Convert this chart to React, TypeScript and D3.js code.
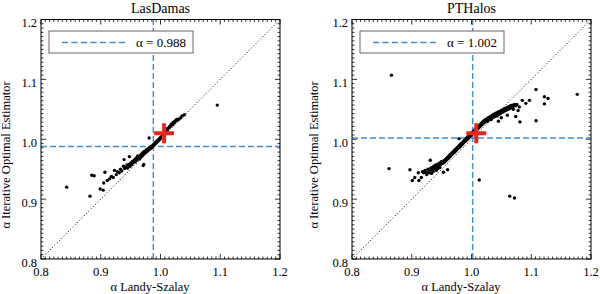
import React, { useEffect, useRef } from "react";
import * as d3 from "d3";

// LasDamas mocks: [alpha Landy-Szalay, alpha iterative optimal estimator]
const lasDamasPoints: [number, number][] = [
  [0.843, 0.920], [0.882, 0.905], [0.885, 0.940], [0.889, 0.939], [0.899, 0.917], [0.904, 0.915],
  [0.905, 0.927], [0.907, 0.945], [0.911, 0.931], [0.915, 0.934], [0.918, 0.938], [0.921, 0.936],
  [0.923, 0.948], [0.926, 0.941], [0.928, 0.946], [0.931, 0.944], [0.933, 0.950], [0.935, 0.947],
  [0.938, 0.955], [0.939, 0.966], [0.940, 0.951], [0.942, 0.953], [0.944, 0.957], [0.945, 0.952],
  [0.947, 0.958], [0.948, 0.971], [0.949, 0.955], [0.950, 0.960], [0.952, 0.958], [0.953, 0.963],
  [0.954, 0.961], [0.956, 0.965], [0.957, 0.962], [0.958, 0.967], [0.959, 0.964], [0.960, 0.969],
  [0.961, 0.966], [0.962, 0.972], [0.963, 0.968], [0.964, 0.971], [0.965, 0.967], [0.966, 0.973],
  [0.967, 0.970], [0.968, 0.975], [0.969, 0.972], [0.970, 0.977], [0.971, 0.956], [0.972, 0.958],
  [0.971, 0.974], [0.972, 0.979], [0.973, 0.976], [0.974, 0.980], [0.975, 0.978], [0.976, 0.982],
  [0.977, 0.979], [0.978, 0.983], [0.979, 0.981], [0.980, 0.985], [0.981, 0.983], [0.982, 0.986],
  [0.983, 0.984], [0.984, 0.988], [0.985, 0.986], [0.986, 0.989], [0.987, 0.988], [0.988, 0.991],
  [0.989, 0.990], [0.990, 0.993], [0.991, 0.992], [0.981, 1.002], [0.992, 0.995], [0.993, 0.994],
  [0.994, 0.997], [0.995, 0.996], [0.996, 0.999], [0.997, 0.998], [0.998, 1.001], [0.999, 1.000],
  [1.000, 1.003], [1.002, 1.004], [1.003, 1.006], [1.005, 1.007], [1.006, 1.010], [1.008, 1.011],
  [1.009, 1.014], [1.011, 1.015], [1.012, 1.018], [1.014, 1.019], [1.015, 1.021], [1.017, 1.022],
  [1.018, 1.025], [1.020, 1.024], [1.021, 1.028], [1.023, 1.027], [1.024, 1.030], [1.026, 1.031],
  [1.027, 1.033], [1.029, 1.032], [1.031, 1.034], [1.034, 1.036], [1.036, 1.039], [1.040, 1.041],
  [1.095, 1.057],
];

// PTHalos mocks
const ptHalosPoints: [number, number][] = [
  [0.862, 0.951], [0.866, 1.107], [0.897, 0.949], [0.901, 0.931], [0.905, 0.936], [0.911, 0.944],
  [0.912, 0.931], [0.916, 0.936], [0.918, 0.946], [0.920, 0.944], [0.922, 0.948], [0.924, 0.945],
  [0.925, 0.941], [0.927, 0.950], [0.928, 0.944], [0.930, 0.947], [0.931, 0.965], [0.932, 0.952],
  [0.933, 0.943], [0.934, 0.949], [0.935, 0.953], [0.936, 0.946], [0.937, 0.955], [0.938, 0.950],
  [0.939, 0.952], [0.940, 0.957], [0.941, 0.948], [0.942, 0.954], [0.943, 0.958], [0.944, 0.951],
  [0.945, 0.956], [0.946, 0.960], [0.947, 0.953], [0.948, 0.958], [0.949, 0.962], [0.950, 0.959],
  [0.951, 0.963], [0.953, 0.945], [0.952, 0.960], [0.954, 0.964], [0.955, 0.962], [0.956, 0.966],
  [0.957, 0.964], [0.958, 0.968], [0.959, 0.966], [0.960, 0.949], [0.960, 0.970], [0.961, 0.968],
  [0.962, 0.972], [0.963, 0.970], [0.964, 0.974], [0.965, 0.972], [0.966, 0.976], [0.967, 0.974],
  [0.968, 0.978], [0.969, 0.976], [0.970, 0.980], [0.971, 0.978], [0.972, 0.982], [0.973, 0.980],
  [0.974, 0.984], [0.975, 0.982], [0.976, 0.986], [0.977, 0.984], [0.978, 0.988], [0.979, 0.986],
  [0.979, 1.001], [0.980, 0.990], [0.981, 0.988], [0.982, 0.992], [0.983, 0.990], [0.984, 0.994],
  [0.985, 0.992], [0.986, 0.996], [0.987, 0.994], [0.988, 0.998], [0.989, 0.996], [0.990, 1.000],
  [0.991, 0.998], [0.992, 1.002], [0.993, 1.000], [0.994, 1.004], [0.995, 1.002], [0.996, 1.006],
  [0.997, 1.004], [0.998, 1.008], [0.999, 1.006], [1.000, 1.010], [1.001, 1.008], [1.002, 1.012],
  [1.003, 1.010], [1.004, 1.014], [1.005, 1.012], [1.006, 1.016], [1.007, 1.014], [1.008, 1.018],
  [1.009, 1.016], [1.010, 1.020], [1.011, 1.018], [1.012, 1.022], [1.013, 0.932], [1.013, 1.020],
  [1.014, 1.024], [1.015, 1.022], [1.016, 1.026], [1.017, 1.024], [1.018, 1.028], [1.019, 1.026],
  [1.020, 1.030], [1.021, 1.028], [1.022, 1.032], [1.023, 1.029], [1.024, 1.033], [1.025, 1.031],
  [1.026, 1.034], [1.027, 1.030], [1.028, 1.036], [1.029, 1.033], [1.030, 1.037], [1.031, 1.034],
  [1.032, 1.038], [1.033, 1.033], [1.034, 1.039], [1.035, 1.036], [1.036, 1.041], [1.037, 1.037],
  [1.038, 1.042], [1.039, 1.038], [1.040, 1.043], [1.041, 1.040], [1.042, 1.044], [1.043, 1.039],
  [1.044, 1.045], [1.045, 1.041], [1.046, 1.046], [1.047, 1.042], [1.048, 1.047], [1.049, 1.044],
  [1.050, 1.048], [1.051, 1.045], [1.052, 1.049], [1.053, 1.046], [1.054, 1.050], [1.055, 1.047],
  [1.056, 1.051], [1.057, 1.048], [1.058, 1.052], [1.059, 1.049], [1.060, 1.053], [1.061, 1.050],
  [1.062, 1.054], [1.063, 1.051], [1.064, 1.055], [1.065, 1.052], [1.066, 1.056], [1.067, 1.053],
  [1.068, 1.057], [1.070, 1.055], [1.072, 1.058], [1.074, 1.056], [1.076, 1.058], [1.050, 1.036],
  [1.045, 1.030], [1.060, 1.040], [1.074, 1.038], [1.081, 1.029], [1.085, 1.065], [1.091, 1.060],
  [1.097, 1.065], [1.108, 1.083], [1.122, 1.071], [1.128, 1.068], [1.122, 1.059], [1.108, 1.031],
  [1.177, 1.075], [1.064, 0.905], [1.072, 0.902], [1.070, 1.050], [1.080, 1.054], [1.078, 1.048],
];

const tickValues = [0.8, 0.9, 1.0, 1.1, 1.2];
const panelTitles = ["LasDamas", "PTHalos"];
const meanAlpha = [0.988, 1.002];
const crossPoints: [number, number][] = [[1.006, 1.010], [1.008, 1.010]];

const blue = "#3d8fd8";
const font = "'Liberation Serif', 'Times New Roman', serif";

function App() {
  const ref = useRef<SVGSVGElement>(null);

  useEffect(() => {
    const svg = d3.select(ref.current);
    svg.selectAll("*").remove();

    const panels = [
      { left: 41, data: lasDamasPoints, labelX: 150, yLabelX: 10 },
      { left: 352, data: ptHalosPoints, labelX: 461, yLabelX: 318 },
    ];

    panels.forEach((p, i) => {
      const x = d3.scaleLinear().domain([0.8, 1.2]).range([p.left, p.left + 239]);
      const y = d3.scaleLinear().domain([0.8, 1.2]).range([259, 19.5]);
      const g = svg.append("g");

      // minor ticks (14 per major step, as in the original)
      const minor = d3.range(0, 57).map((k) => 0.8 + (k * 0.1) / 14);
      const tickG = g.append("g").attr("stroke", "#000").attr("stroke-width", 0.8);
      minor.forEach((v) => {
        const isMajor = tickValues.some((t) => Math.abs(t - v) < 1e-6);
        const len = isMajor ? 5 : 2.5;
        tickG.append("line").attr("x1", x(v)).attr("x2", x(v)).attr("y1", y(0.8)).attr("y2", y(0.8) - len);
        tickG.append("line").attr("x1", x(v)).attr("x2", x(v)).attr("y1", y(1.2)).attr("y2", y(1.2) + len);
        tickG.append("line").attr("y1", y(v)).attr("y2", y(v)).attr("x1", x(0.8)).attr("x2", x(0.8) + len);
        tickG.append("line").attr("y1", y(v)).attr("y2", y(v)).attr("x1", x(1.2)).attr("x2", x(1.2) - len);
      });

      // 1:1 line
      g.append("line")
        .attr("x1", x(0.8)).attr("y1", y(0.8)).attr("x2", x(1.2)).attr("y2", y(1.2))
        .attr("stroke", "#000").attr("stroke-width", 1).attr("stroke-dasharray", "1,2.2");

      // mean alpha lines
      g.append("line")
        .attr("x1", x(meanAlpha[i])).attr("x2", x(meanAlpha[i])).attr("y1", y(0.8)).attr("y2", y(1.2))
        .attr("stroke", blue).attr("stroke-width", 1.4).attr("stroke-dasharray", "6,3");
      g.append("line")
        .attr("y1", y(meanAlpha[i])).attr("y2", y(meanAlpha[i])).attr("x1", x(0.8)).attr("x2", x(1.2))
        .attr("stroke", blue).attr("stroke-width", 1.4).attr("stroke-dasharray", "6,3");

      // points
      g.append("g").selectAll("circle").data(p.data).join("circle")
        .attr("cx", (d) => x(d[0])).attr("cy", (d) => y(d[1])).attr("r", 1.7).attr("fill", "#000");

      // red cross
      const [cx, cy] = crossPoints[i];
      g.append("path")
        .attr("d", `M${x(cx) - 10},${y(cy)}H${x(cx) + 10}M${x(cx)},${y(cy) - 10}V${y(cy) + 10}`)
        .attr("stroke", "#e8261e").attr("stroke-width", 4);

      // frame
      g.append("rect")
        .attr("x", x(0.8)).attr("y", y(1.2)).attr("width", x(1.2) - x(0.8)).attr("height", y(0.8) - y(1.2))
        .attr("fill", "none").attr("stroke", "#000").attr("stroke-width", 1);

      // legend
      const lx = p.left + 8;
      g.append("rect").attr("x", lx).attr("y", 31).attr("width", 144).attr("height", 22)
        .attr("fill", "#fff").attr("stroke", "#666").attr("stroke-width", 1);
      g.append("line").attr("x1", lx + 13).attr("x2", lx + 79).attr("y1", 42.5).attr("y2", 42.5)
        .attr("stroke", blue).attr("stroke-width", 1.4).attr("stroke-dasharray", "6,3.5");
      g.append("text").attr("x", lx + 87).attr("y", 47).attr("font-family", font).attr("font-size", 13)
        .text(`α = ${d3.format(".3f")(meanAlpha[i])}`);

      // tick labels
      const txt = g.append("g").attr("font-family", font).attr("font-size", 12.5).attr("fill", "#000");
      tickValues.forEach((v) => {
        txt.append("text").attr("x", x(v)).attr("y", 276).attr("text-anchor", "middle").text(d3.format(".1f")(v));
        txt.append("text").attr("x", x(0.8) - 4).attr("y", y(v) + 7.5).attr("text-anchor", "end").text(d3.format(".1f")(v));
      });

      // titles
      txt.append("text").attr("x", (x(0.8) + x(1.2)) / 2).attr("y", 13).attr("text-anchor", "middle")
        .attr("font-size", 14).text(panelTitles[i]);
      txt.append("text").attr("x", p.labelX).attr("y", 291).attr("text-anchor", "middle").text("α Landy-Szalay");
      txt.append("text").attr("transform", `translate(${p.yLabelX},155) rotate(-90)`).attr("text-anchor", "middle")
        .text("α Iterative Optimal Estimator");
    });
  }, []);

  return (
    <svg ref={ref} width={600} height={294} style={{ position: "absolute", left: 0, top: 0, background: "#fff" }} />
  );
}

export default App;
